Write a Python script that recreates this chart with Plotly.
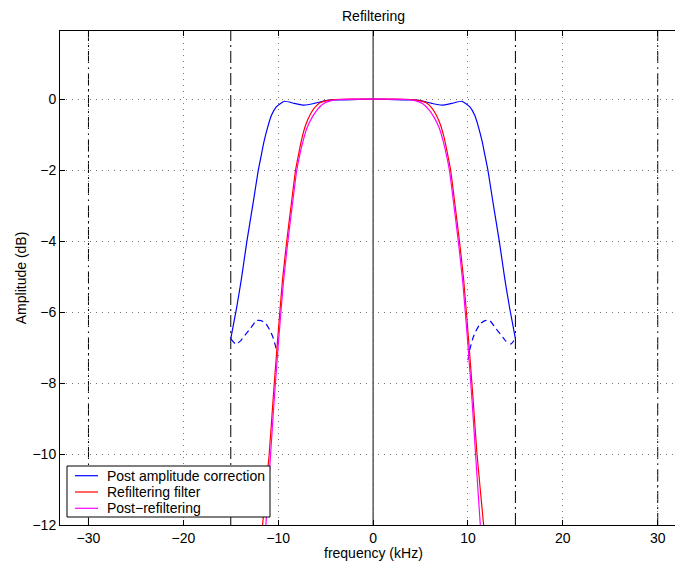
import plotly.graph_objects as go

# Frequency response readings (kHz, dB)
freq_corrected = [-15.0, -14.4, -13.9, -13.3, -12.6, -12.1, -11.8, -11.5, -11.1, -10.7, -10.2,
                  -9.35, -8.3, -7.24, -6.2, -5.0, -4.2, -3.0, -1.5, 0.0, 1.5, 3.0, 4.2, 5.0,
                  6.2, 7.24, 8.3, 9.35, 10.2, 10.7, 11.1, 11.5, 11.8, 12.1, 12.6, 13.3, 13.9,
                  14.4, 15.0]
amp_corrected = [-6.75, -5.9, -5.1, -4.0, -2.85, -2.0, -1.6, -1.2, -0.78, -0.45, -0.22,
                 -0.06, -0.12, -0.17, -0.12, -0.04, -0.02, -0.02, -0.01, 0.0, -0.01, -0.02,
                 -0.02, -0.04, -0.12, -0.17, -0.12, -0.06, -0.22, -0.45, -0.78, -1.2, -1.6,
                 -2.0, -2.85, -4.0, -5.1, -5.9, -6.75]

# Aliased band beyond the passband edges (dashed)
freq_alias_lo = [-15.0, -14.5, -14.0, -13.5, -12.9, -12.3, -11.8, -11.3, -10.8, -10.5, -10.2, -10.0]
amp_alias_lo = [-6.75, -6.9, -6.82, -6.65, -6.45, -6.24, -6.24, -6.33, -6.55, -6.75, -7.05, -7.35]
freq_alias_hi = [10.0, 10.2, 10.5, 10.8, 11.3, 11.8, 12.3, 12.9, 13.5, 14.0, 14.5, 15.0]
amp_alias_hi = [-7.35, -7.05, -6.75, -6.55, -6.33, -6.24, -6.24, -6.45, -6.65, -6.82, -6.9, -6.75]

freq_refilter = [-12.0, -11.65, -10.95, -10.55, -10.1, -9.55, -9.1, -8.55, -8.17, -7.85, -7.5,
                 -7.1, -6.6, -6.2, -5.6, -5.0, -4.0, -2.0, 0.0, 2.0, 4.0, 5.0, 5.6, 6.2, 6.6,
                 7.1, 7.5, 7.85, 8.17, 8.55, 9.1, 9.55, 10.1, 10.55, 10.95, 11.65, 12.0]
amp_refilter = [-13.0, -12.0, -10.0, -8.5, -6.9, -5.1, -4.0, -2.8, -2.0, -1.55, -1.1,
                -0.72, -0.42, -0.25, -0.1, -0.05, -0.01, 0.0, 0.0, 0.0, -0.01, -0.05, -0.1,
                -0.25, -0.42, -0.72, -1.1, -1.55, -2.0, -2.8, -4.0, -5.1, -6.9, -8.5, -10.0,
                -12.0, -13.0]

freq_post = [-11.6, -11.3, -10.8, -10.43, -10.0, -9.45, -9.0, -8.45, -8.07, -7.75, -7.4,
             -6.95, -6.4, -5.9, -5.2, -4.5, -3.5, -2.0, 0.0, 2.0, 3.5, 4.5, 5.2, 5.9, 6.4,
             6.95, 7.4, 7.75, 8.07, 8.45, 9.0, 9.45, 10.0, 10.43, 10.8, 11.3, 11.6]
amp_post = [-13.0, -12.0, -10.0, -8.5, -6.95, -5.15, -4.05, -2.85, -2.05, -1.6, -1.2,
            -0.8, -0.5, -0.3, -0.12, -0.05, -0.01, 0.0, 0.0, 0.0, -0.01, -0.05, -0.12,
            -0.3, -0.5, -0.8, -1.2, -1.6, -2.05, -2.85, -4.05, -5.15, -6.95, -8.5, -10.0,
            -12.0, -13.0]

# Band limits marked with dash-dot lines
band_edges = [-30, -15, 15, 30]

x_ticks = [-30, -20, -10, 0, 10, 20, 30]
y_ticks = [-12, -10, -8, -6, -4, -2, 0]
x_range = [-33, 31.82]
y_range = [-12, 1.92]

legend_names = ["Post amplitude correction", "Refiltering filter", "Post\u2212refiltering"]
legend_colors = ["#0000ff", "#ff0000", "#ff00ff"]


def tick_text(v):
    return ("\u2212" + str(abs(v))) if v < 0 else str(v)


FONT = "Liberation Sans, Arial, Helvetica, sans-serif"
SPLINE = dict(shape="spline", smoothing=0.5)
W, H = 675, 563
M_L, M_R, M_T, M_B = 60, 0, 31, 38
PLOT_W, PLOT_H = W - M_L - M_R, H - M_T - M_B


def px_x(px):
    return (px - M_L) / PLOT_W


def px_y(py):
    return (H - M_B - py) / PLOT_H


fig = go.Figure()
fig.add_trace(go.Scatter(x=freq_corrected, y=amp_corrected, mode="lines",
                         name=legend_names[0],
                         line=dict(color=legend_colors[0], width=1.2, **SPLINE)))
fig.add_trace(go.Scatter(x=freq_alias_lo, y=amp_alias_lo, mode="lines",
                         line=dict(color=legend_colors[0], width=1.2, dash="6px,4px", **SPLINE)))
fig.add_trace(go.Scatter(x=freq_alias_hi, y=amp_alias_hi, mode="lines",
                         line=dict(color=legend_colors[0], width=1.2, dash="6px,4px", **SPLINE)))
fig.add_trace(go.Scatter(x=freq_refilter, y=amp_refilter, mode="lines",
                         name=legend_names[1],
                         line=dict(color=legend_colors[1], width=1.2, **SPLINE)))
fig.add_trace(go.Scatter(x=freq_post, y=amp_post, mode="lines",
                         name=legend_names[2],
                         line=dict(color=legend_colors[2], width=1.2, **SPLINE)))

for f in band_edges:
    fig.add_shape(type="line", xref="x", yref="paper", x0=f, x1=f, y0=0, y1=1,
                  line=dict(color="black", width=1, dash="12px,4px,2px,4px"), layer="below")
fig.add_shape(type="line", xref="x", yref="paper", x0=0, x1=0, y0=0, y1=1,
              line=dict(color="black", width=1), layer="below")

# Legend box in the lower-left corner, drawn compactly
fig.add_shape(type="rect", xref="paper", yref="paper",
              x0=px_x(67), x1=px_x(270), y0=px_y(517), y1=px_y(466),
              line=dict(color="black", width=1), fillcolor="white", layer="above")
for i, (name, color) in enumerate(zip(legend_names, legend_colors)):
    row_y = px_y(475.7 + 16.3 * i)
    fig.add_shape(type="line", xref="paper", yref="paper",
                  x0=px_x(75), x1=px_x(98), y0=row_y, y1=row_y,
                  line=dict(color=color, width=1.2), layer="above")
    fig.add_annotation(text=name, xref="paper", yref="paper", x=px_x(105), y=row_y,
                       xanchor="left", yanchor="middle", showarrow=False,
                       font=dict(family=FONT, size=14, color="black"))

axis_common = dict(showline=True, linecolor="black", linewidth=1, ticks="inside",
                   ticklen=5, tickcolor="black", zeroline=False, showgrid=True,
                   gridcolor="#7a7a7a", gridwidth=1, griddash="1px,5px",
                   tickfont=dict(family=FONT, size=14, color="black"))

fig.update_xaxes(range=x_range, tickvals=x_ticks, ticktext=[tick_text(v) for v in x_ticks],
                 mirror="ticks", **axis_common)
fig.update_yaxes(range=y_range, tickvals=y_ticks, ticktext=[tick_text(v) for v in y_ticks],
                 mirror=False, **axis_common)

center_x = (0 - x_range[0]) / (x_range[1] - x_range[0])
fig.add_annotation(text="Refiltering", xref="paper", yref="paper", x=center_x, y=1.031,
                   xanchor="center", yanchor="middle", showarrow=False,
                   font=dict(family=FONT, size=14, color="black"))
fig.add_annotation(text="frequency (kHz)", xref="paper", yref="paper", x=center_x, y=-0.057,
                   xanchor="center", yanchor="middle", showarrow=False,
                   font=dict(family=FONT, size=14, color="black"))
fig.add_annotation(text="Amplitude (dB)", xref="paper", yref="paper", x=-0.063, y=0.5,
                   xanchor="center", yanchor="middle", textangle=-90, showarrow=False,
                   font=dict(family=FONT, size=14, color="black"))

fig.update_layout(
    width=W, height=H,
    margin=dict(l=M_L, r=M_R, t=M_T, b=M_B),
    paper_bgcolor="white", plot_bgcolor="white",
    font=dict(family=FONT, size=14, color="black"),
    showlegend=False,
)

fig.write_html("out.html")
